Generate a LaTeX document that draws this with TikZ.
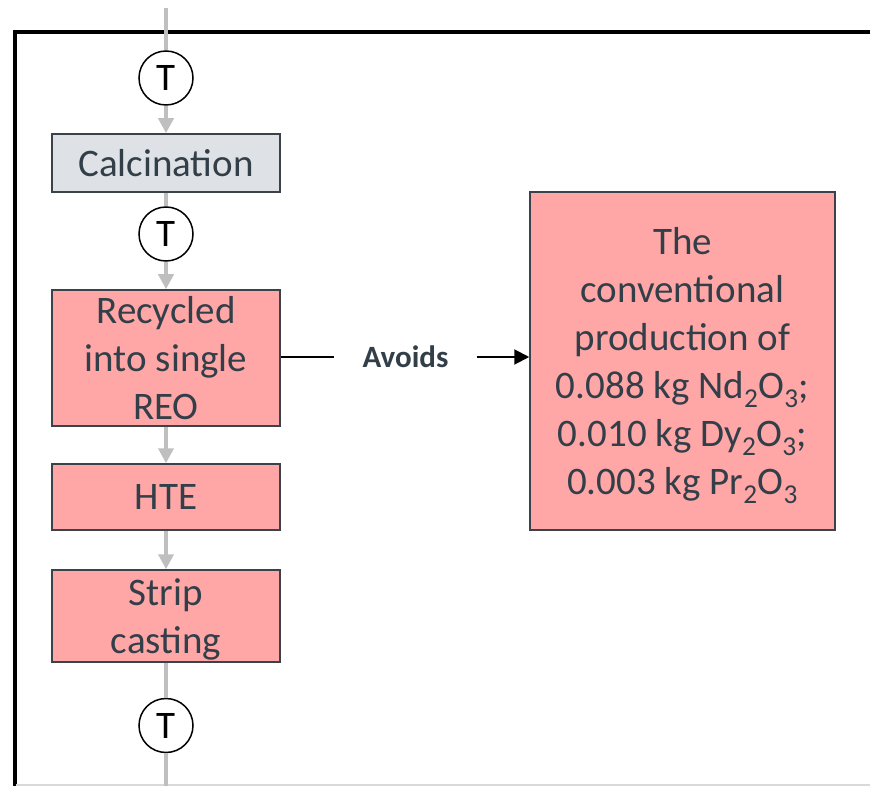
\documentclass[tikz,border=0pt]{standalone}
\usepackage{fontspec}
\setmainfont{Carlito}
\usetikzlibrary{arrows.meta}
\definecolor{txt}{RGB}{50,62,72}
\definecolor{bord}{RGB}{59,66,73}
\definecolor{pinkf}{RGB}{255,167,167}
\definecolor{grayf}{RGB}{222,225,229}
\definecolor{conn}{RGB}{191,191,191}
\definecolor{botl}{RGB}{217,217,217}
\tikzset{
  procbox/.style={draw=bord, line width=1.5pt, text=txt, align=center, inner sep=0pt,
    minimum width=228pt, font=\fontsize{39}{48}\selectfont},
  pinkbox/.style={procbox, fill=pinkf},
  graybox/.style={procbox, fill=grayf},
  tcirc/.style={circle, draw=black, line width=1.5pt, fill=white, minimum size=54pt, inner sep=0pt,
    font=\fontsize{39}{47}\selectfont},
  gline/.style={draw=conn, line width=4pt},
  garrow/.style={gline, -{Triangle[length=15pt,width=15pt]}},
  barrow/.style={draw=black, line width=2pt, -{Triangle[length=15pt,width=15pt]}},
}
\begin{document}
\begin{tikzpicture}[x=1pt,y=-1pt]
\useasboundingbox (0,0) rectangle (870,786);
% frame
\draw[line width=4pt] (14.5,786) -- (14.5,32.5) -- (870,32.5);
\draw[draw=botl, line width=2pt] (16,785) -- (870,785);
% nodes
\coordinate (top) at (166,8);
\coordinate (bot) at (166,786);
\node[tcirc] (t1) at (166,78) {T};
\node[graybox, minimum height=58pt] (calc) at (166,163) {Calcination};
\node[tcirc] (t2) at (166,234) {T};
\node[pinkbox, minimum height=136pt] (rec) at (166,358) {Recycled\\into single\\REO};
\node[pinkbox, minimum height=66pt] (hte) at (166,497) {HTE};
\node[pinkbox, minimum height=92pt, text depth=0pt] (strip) at (166,616) {Strip\\casting};
\node[tcirc] (t3) at (166,725.5) {T};
\node[pinkbox, minimum width=305pt, minimum height=338pt, text depth=0pt] (conv) at (682.5,361)
  {The\\conventional\\production of\\0.088 kg Nd\textsubscript{2}O\textsubscript{3};\\0.010 kg Dy\textsubscript{2}O\textsubscript{3};\\0.003 kg Pr\textsubscript{2}O\textsubscript{3}};
\node[text=txt, inner xsep=28pt, inner ysep=0pt, font=\fontsize{31}{37}\selectfont\bfseries] (avoids) at (405.5,357) {Avoids};
% connectors
\draw[gline] (top) -- (t1);
\draw[garrow] (t1) -- (calc);
\draw[gline] (calc) -- (t2);
\draw[garrow] (t2) -- (rec);
\draw[garrow] (rec) -- (hte);
\draw[garrow] (hte) -- (strip);
\draw[gline] (strip) -- (t3);
\draw[gline] (t3) -- (bot);
\draw[line width=2pt] (rec.east |- avoids.west) -- (avoids.west);
\draw[barrow] (avoids.east) -- (avoids.east -| conv.west);
\end{tikzpicture}
\end{document}
